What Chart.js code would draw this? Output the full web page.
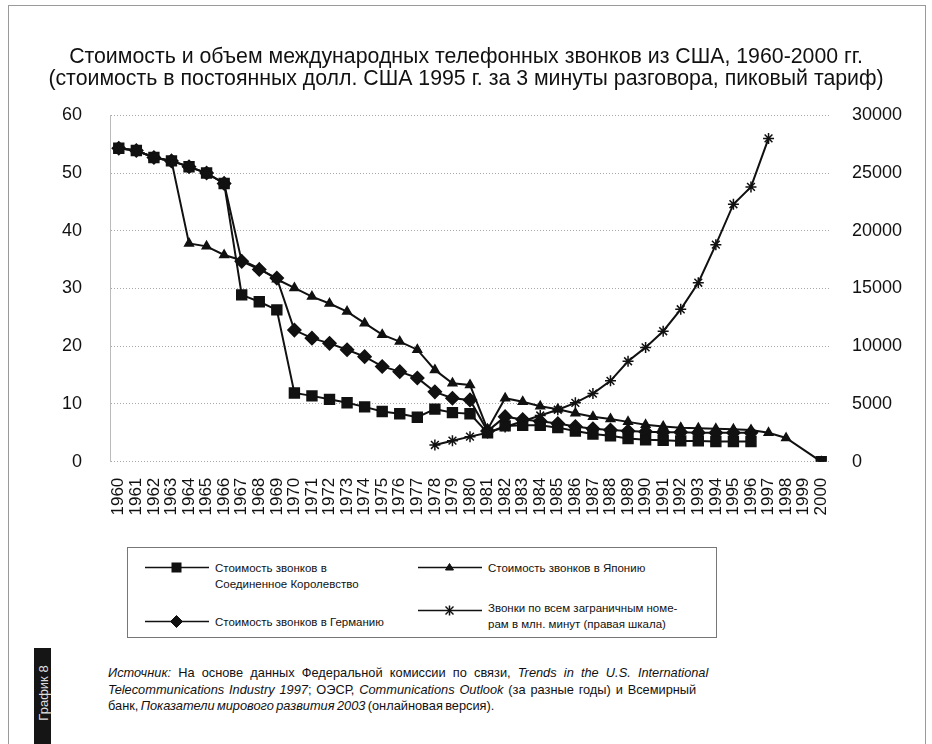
<!DOCTYPE html>
<html>
<head>
<meta charset="utf-8">
<script src="https://cdn.jsdelivr.net/npm/chart.js@4.4.1/dist/chart.umd.min.js"></script>
<style>
  html, body { margin: 0; padding: 0; background: #fff; }
  body { width: 932px; height: 744px; position: relative; overflow: hidden; font-family: "Liberation Sans", Arial, sans-serif; color: #111; }
  #frame { position: absolute; left: 8px; top: 5px; width: 916px; height: 800px; border: 1px solid #9a9a9a; }
  #wrap { position: absolute; left: 0; top: 0; width: 932px; height: 530px; }
  #legend { position: absolute; left: 127px; top: 547px; width: 588px; height: 89px; border: 1px solid #777; font-size: 11.5px; line-height: 16px; }
  .item { position: absolute; display: flex; align-items: flex-start; }
  .item svg { flex: none; margin-right: 6px; }
  #source { position: absolute; left: 108px; top: 665px; width: 700px; font-size: 12.8px; line-height: 16.5px; white-space: nowrap; }
  #tab { position: absolute; left: 34px; top: 648px; width: 17px; height: 100px; background: #151515; }
  #tab span { position: absolute; left: 50%; top: 45px; transform: translate(-50%, -50%) rotate(-90deg); color: #ddd; font-size: 13px; white-space: nowrap; }
</style>
</head>
<body>
<div id="frame"></div>
<div id="wrap"><canvas id="callsChart" width="932" height="530"></canvas></div>
<div id="legend"></div>
<div id="source">
  <span style="word-spacing:3.6px"><i>Источник:</i> На основе данных Федеральной комиссии по связи, <i>Trends in the U.S. International</i></span><br>
  <span style="word-spacing:1.3px"><i>Telecommunications Industry 1997</i>; ОЭСР, <i>Communications Outlook</i> (за разные годы) и Всемирный</span><br>
  <span style="word-spacing:-1.2px">банк, <i>Показатели мирового развития 2003</i> (онлайновая версия).</span>
</div>
<div id="tab"><span>График 8</span></div>

<script>
// == data ==
const years = ['1960','1961','1962','1963','1964','1965','1966','1967','1968','1969',
  '1970','1971','1972','1973','1974','1975','1976','1977','1978','1979',
  '1980','1981','1982','1983','1984','1985','1986','1987','1988','1989',
  '1990','1991','1992','1993','1994','1995','1996','1997','1998','1999','2000'];

const costUK = [54.3, 53.9, 52.7, 52.1, 51.1, 50.0, 48.2, 28.9, 27.7, 26.3,
  11.9, 11.4, 10.8, 10.2, 9.5, 8.7, 8.3, 7.7, 9.1, 8.5,
  8.3, 5.0, 6.2, 6.3, 6.3, 5.9, 5.3, 4.8, 4.5, 4.0,
  3.8, 3.7, 3.6, 3.6, 3.5, 3.5, 3.5, null, null, null, 0];

const costGermany = [54.3, 53.9, 52.7, 52.1, 51.1, 50.0, 48.2, 34.7, 33.3, 31.8,
  22.8, 21.4, 20.5, 19.4, 18.2, 16.5, 15.6, 14.5, 12.1, 11.0,
  10.7, 5.3, 7.8, 7.3, 7.0, 6.6, 6.1, 5.7, 5.5, 5.3,
  5.2, 5.1, 5.1, 5.0, 5.0, 5.0, 5.0, null, null, null, null];

const costJapan = [54.3, 53.9, 52.7, 52.1, 37.8, 37.3, 35.8, 34.9, 33.5, 31.6,
  30.1, 28.6, 27.4, 26.0, 24.0, 22.0, 20.8, 19.4, 15.9, 13.6,
  13.3, 5.6, 11.0, 10.4, 9.6, 9.1, 8.4, 7.8, 7.4, 6.9,
  6.4, 6.1, 5.9, 5.8, 5.7, 5.6, 5.5, 5.0, 4.1, null, 0];

const minutesAbroad = [null, null, null, null, null, null, null, null, null, null,
  null, null, null, null, null, null, null, null, 1450, 1820,
  2170, 2500, 3000, 3500, 4000, 4500, 5100, 5900, 7000, 8700,
  9900, 11300, 13200, 15500, 18800, 22300, 23800, 28000, null, null, null];

const leftTicks = [0, 10, 20, 30, 40, 50, 60];
const rightTicks = [0, 5000, 10000, 15000, 20000, 25000, 30000];

const titleLines = [
  'Стоимость и объем международных телефонных звонков из США, 1960-2000 гг.',
  '(стоимость в постоянных долл. США 1995 г. за 3 минуты разговора, пиковый тариф)'
];

const seriesNames = [
  'Стоимость звонков в\nСоединенное Королевство',
  'Стоимость звонков в Германию',
  'Стоимость звонков в Японию',
  'Звонки по всем заграничным номе-\nрам в млн. минут (правая шкала)'
];

// == chart ==
const fontFamily = '"Liberation Sans", Arial, sans-serif';
const tickFont = { family: fontFamily, size: 18 };

const datasets = [
  { label: seriesNames[0], data: costUK, yAxisID: 'y', pointStyle: 'rect', pointRadius: 7 },
  { label: seriesNames[1], data: costGermany, yAxisID: 'y', pointStyle: 'rectRot', pointRadius: 6.5 },
  { label: seriesNames[2], data: costJapan, yAxisID: 'y', pointStyle: 'triangle', pointRadius: 5, spanGaps: true },
  { label: seriesNames[3], data: minutesAbroad, yAxisID: 'y2', pointStyle: 'star', pointRadius: 5.5 }
].map(d => Object.assign({
  borderColor: '#111',
  backgroundColor: '#111',
  pointBackgroundColor: '#111',
  pointBorderColor: '#111',
  pointBorderWidth: 1.5,
  borderWidth: 2,
  tension: 0,
  fill: false
}, d));

new Chart(document.getElementById('callsChart'), {
  type: 'line',
  data: { labels: years, datasets: datasets },
  options: {
    responsive: false,
    animation: false,
    layout: { padding: 0 },
    plugins: {
      legend: { display: false },
      tooltip: { enabled: false },
      title: {
        display: true,
        text: titleLines,
        color: '#111',
        font: { family: fontFamily, size: 21.3, weight: 'normal', lineHeight: 1.04 },
        padding: { top: 46, bottom: 25 }
      }
    },
    scales: {
      x: {
        offset: true,
        grid: { display: false, drawTicks: false },
        border: { display: false },
        ticks: {
          color: '#111',
          font: { family: fontFamily, size: 17 },
          maxRotation: 90, minRotation: 90, autoSkip: false, padding: 16
        },
        afterFit: s => { s.height = 68.3; }
      },
      y: {
        position: 'left',
        min: 0, max: 60,
        afterBuildTicks: s => { s.ticks = leftTicks.map(v => ({ value: v })); },
        grid: { color: '#a8a8a8', lineWidth: 1, drawTicks: false },
        border: { display: true, dash: [1, 2], color: '#bbb' },
        ticks: { color: '#111', font: tickFont, padding: 28 },
        afterFit: s => { s.width = 110; }
      },
      y2: {
        position: 'right',
        min: 0, max: 30000,
        afterBuildTicks: s => { s.ticks = rightTicks.map(v => ({ value: v })); },
        grid: { display: false, drawTicks: false },
        border: { display: false },
        ticks: { color: '#111', font: tickFont, padding: 22, callback: v => String(v) },
        afterFit: s => { s.width = 102; }
      }
    }
  }
});

// == legend ==
function markerSvg(style) {
  const c = 'fill="#111" stroke="#111"';
  if (style === 'rect') return `<rect x="27" y="3" width="9" height="9" ${c}/>`;
  if (style === 'rectRot') return `<polygon points="31.5,1.5 37.5,7.5 31.5,13.5 25.5,7.5" ${c}/>`;
  if (style === 'triangle') return `<polygon points="31.5,3.5 35.5,10 27.5,10" ${c}/>`;
  return `<g stroke="#111" stroke-width="1.5"><line x1="27.5" y1="3.5" x2="35.5" y2="11.5"/><line x1="35.5" y1="3.5" x2="27.5" y2="11.5"/><line x1="31.5" y1="2.5" x2="31.5" y2="12.5"/></g>`;
}
const legendPos = [
  { left: 17, top: 12, sy: 0 },
  { left: 17, top: 66, sy: 0 },
  { left: 290, top: 12, sy: 0 },
  { left: 290, top: 52, sy: 3 }
];
const legendEl = document.getElementById('legend');
datasets.forEach((d, i) => {
  const p = legendPos[i];
  const div = document.createElement('div');
  div.className = 'item';
  div.style.left = p.left + 'px';
  div.style.top = p.top + 'px';
  div.innerHTML = `<svg width="64" height="15" style="margin-top:${p.sy}px"><line x1="0" y1="7.5" x2="64" y2="7.5" stroke="#111" stroke-width="1.6"/>${markerSvg(d.pointStyle)}</svg>` +
    `<span>${d.label.replace('\n', '<br>')}</span>`;
  legendEl.appendChild(div);
});
</script>
</body>
</html>
